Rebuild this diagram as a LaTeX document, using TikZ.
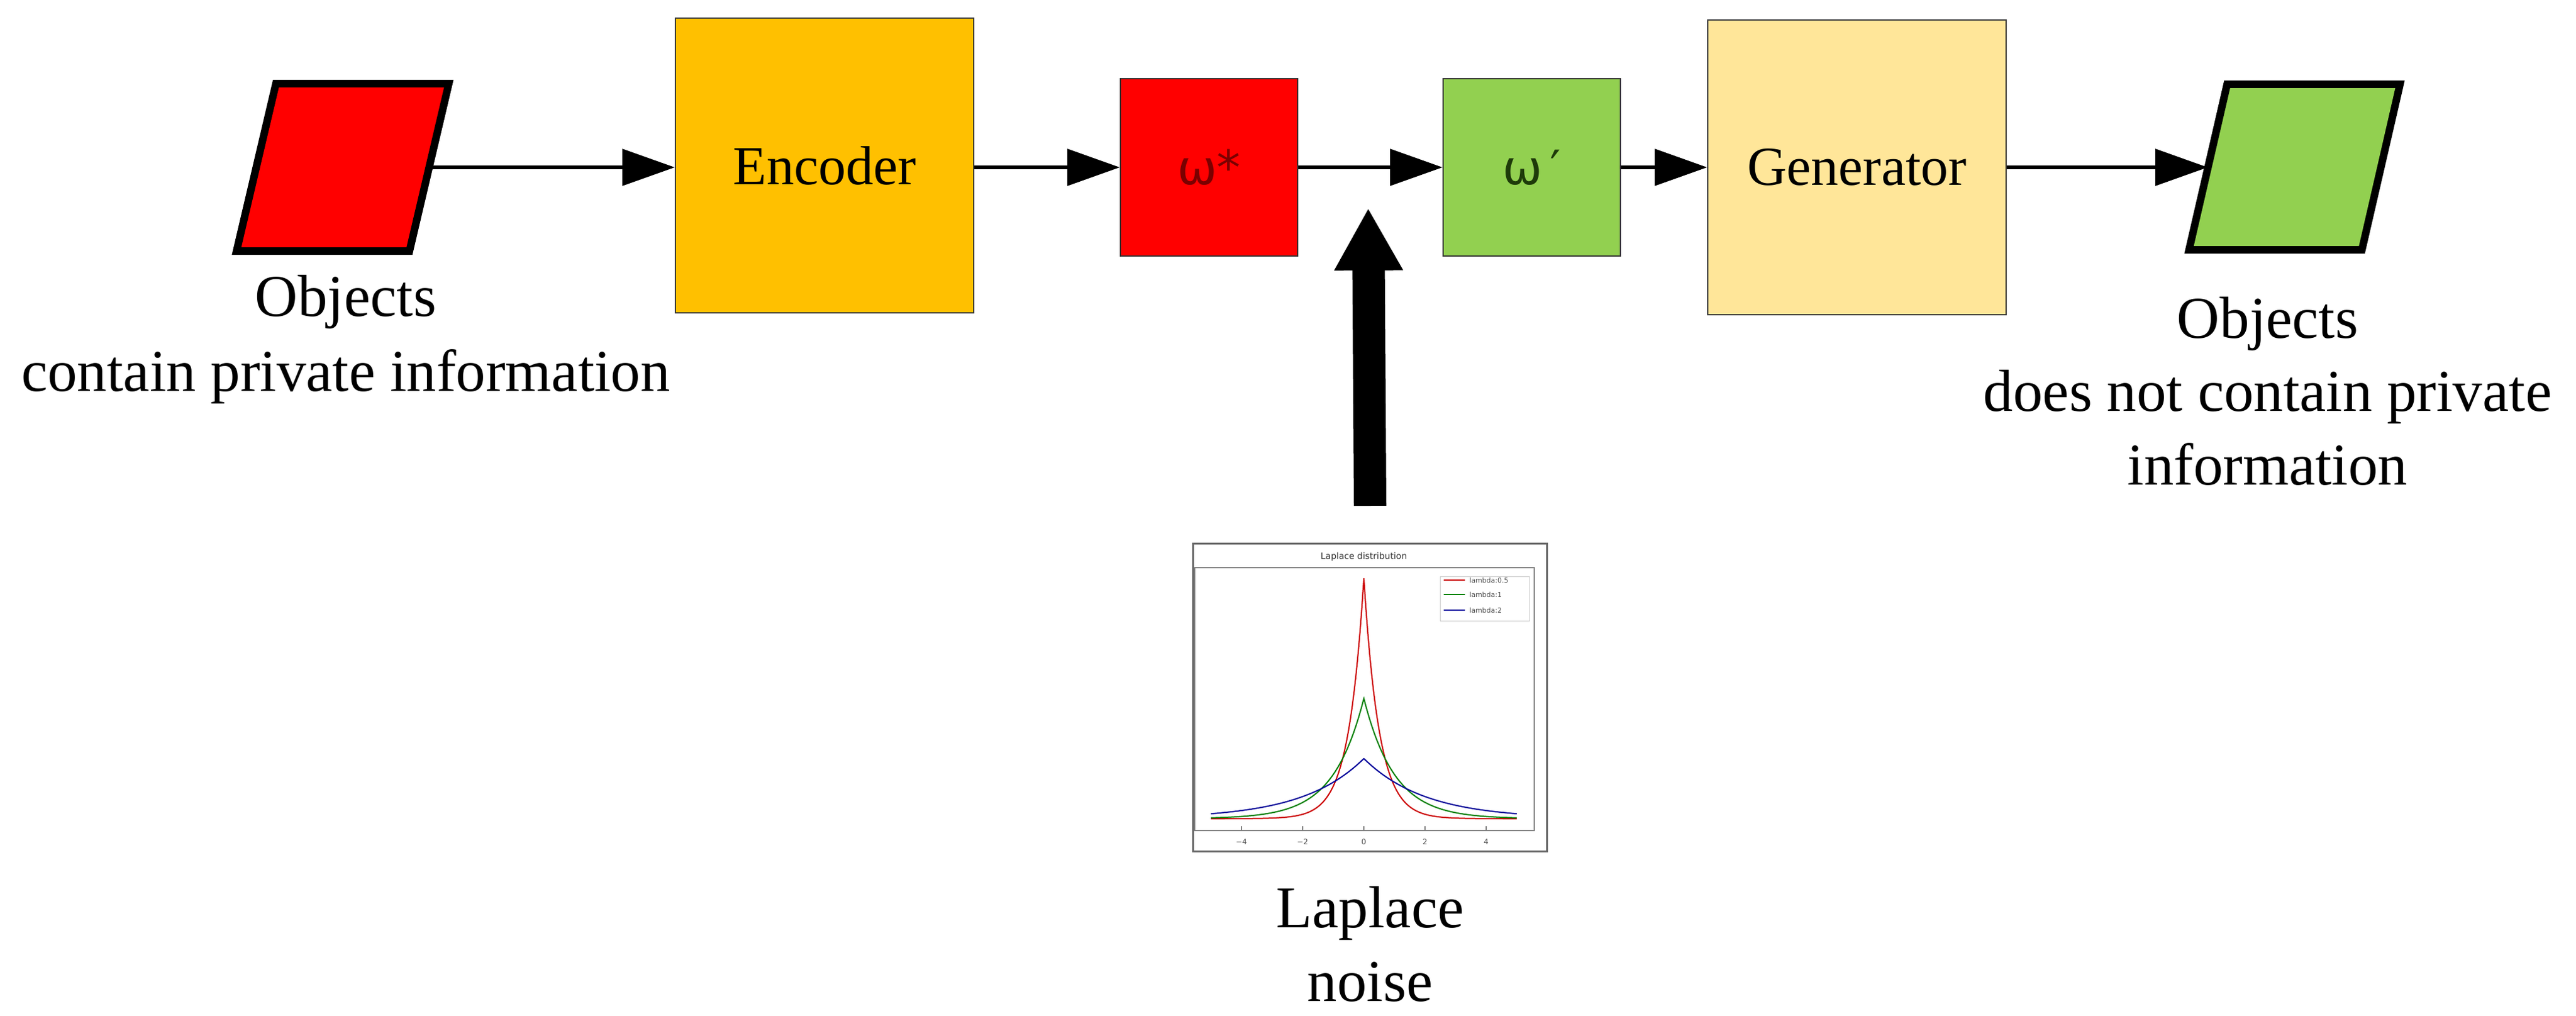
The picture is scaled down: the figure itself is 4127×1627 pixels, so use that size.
\documentclass[tikz,border=0pt]{standalone}
\usepackage{fontspec}
\setmainfont{Liberation Serif}
\newfontfamily\sansf{DejaVu Sans}
\usetikzlibrary{arrows.meta}
\definecolor{encY}{HTML}{FFC000}
\definecolor{genY}{HTML}{FFE699}
\definecolor{grn}{HTML}{92D050}
\definecolor{dred}{HTML}{7A0000}
\definecolor{dgrn}{HTML}{1E3A0A}
\begin{document}
\begin{tikzpicture}[x=1pt,y=-1pt,
  box/.style={draw=black!80,line width=2pt,minimum width=478pt,minimum height=472pt,inner sep=0pt,font=\fontsize{88}{100}\selectfont},
  sq/.style={draw=black!80,line width=2pt,minimum width=284pt,minimum height=283pt,inner sep=0pt,font=\sansf\fontsize{76}{90}\selectfont},
  conn/.style={line width=6pt,-{Triangle[length=84pt,width=58pt]}},
  lbl/.style={anchor=base,inner sep=0pt,font=\fontsize{95}{118}\selectfont},
  para/.style={line width=12pt,line join=miter}]
\useasboundingbox (0,0) rectangle (4127,1627);
% left parallelogram
\draw[para,fill=red] (442,134) -- (719,134) -- (656,402) -- (379,402) -- cycle;
\coordinate (pl) at (688,268);
% right parallelogram
\draw[para,fill=grn] (3568,135) -- (3845,135) -- (3784,400) -- (3507,400) -- cycle;
\coordinate (pr) at (3537,268);
\node[box,fill=encY] (enc) at (1321,265) {Encoder};
\node[sq,fill=red,text=dred] (ws) at (1937,268) {ω*};
\node[sq,fill=grn,text=dgrn] (wp) at (2454,268) {ω\,′};
\node[box,fill=genY] (gen) at (2975,268) {Generator};
\draw[conn] (pl) -- (pl -| enc.west);
\draw[conn] (enc.east |- ws) -- (ws.west);
\draw[conn] (ws) -- (wp);
\draw[conn] (wp) -- (wp -| gen.west);
\draw[conn] (gen.east |- pr) -- (pr);
% texts
\node[lbl] (t1a) at (554,506) {Objects};
\node[lbl] (t1b) at (554,626) {contain private information};
\node[lbl] (t2a) at (3633,541) {Objects};
\node[lbl] (t2b) at (3633,658) {does not contain private};
\node[lbl] (t2c) at (3633,776) {information};
\node[lbl] (t3a) at (2195,1485) {Laplace};
\node[lbl] (t3b) at (2195,1603) {noise};
% plot
\node[draw=black!60,line width=3pt,minimum width=567pt,minimum height=493pt,inner sep=0pt] (plot) at (2195,1117) {};
\coordinate (ntip) at (2192,333);
\coordinate (nbase) at (2195,810);
\draw[line width=52pt,-{Triangle[length=100pt,width=103pt]}] (nbase) -- (ntip);
\draw[gray,line width=1.5pt] (1914,909) rectangle (2458,1330);
\node[font=\sansf\fontsize{14}{16}\selectfont,text=black!80] at (2185,892) {Laplace distribution};
\foreach \t/\l in {-4/−4,-2/−2,0/0,2/2,4/4}{
  \draw[gray,line width=1.2pt] ({2185+49*\t},1330) -- ({2185+49*\t},1323);
  \node[font=\sansf\fontsize{12}{14}\selectfont,text=black!70] at ({2185+49*\t},1348) {\l};}
\begin{scope}[shift={(2185,1311)},x=49pt,y=385pt]
\draw[red!80!black,line width=2pt] plot[domain=-5:0,samples=80] (\x,{exp(\x/0.5)}) -- plot[domain=0:5,samples=80] (\x,{exp(-\x/0.5)});
\draw[green!50!black,line width=2pt] plot[domain=-5:0,samples=60] (\x,{0.5*exp(\x)}) -- plot[domain=0:5,samples=60] (\x,{0.5*exp(-\x)});
\draw[blue!60!black,line width=2pt] plot[domain=-5:0,samples=50] (\x,{0.25*exp(\x/2)}) -- plot[domain=0:5,samples=50] (\x,{0.25*exp(-\x/2)});
\end{scope}
\draw[gray!40,line width=1pt] (2307,923) rectangle (2450,994);
\foreach \yy/\c/\l in {929/red!80!black/lambda:0.5,952/green!50!black/lambda:1,977/blue!60!black/lambda:2}{
  \draw[\c,line width=2pt] (2313,\yy) -- (2347,\yy);
  \node[anchor=west,inner sep=0pt,font=\sansf\fontsize{11}{13}\selectfont,text=black!70] at (2354,\yy) {\l};}
\end{tikzpicture}
\end{document}
